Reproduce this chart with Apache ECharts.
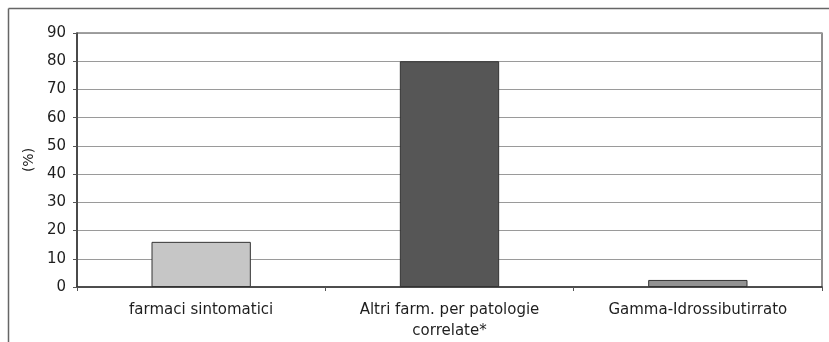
<!DOCTYPE html>
<html>
<head>
<meta charset="utf-8">
<script src="https://cdn.jsdelivr.net/npm/echarts@6/dist/echarts.min.js"></script>
<style>html,body{margin:0;padding:0;background:#fff}#c{width:829px;height:342px}</style>
</head>
<body>
<div id="c"></div>
<script>
const categories = ['farmaci sintomatici', 'Altri farm. per patologie\ncorrelate*', 'Gamma-Idrossibutirrato'];
const values = [16, 80, 2.5];
const barColors = ['#c6c6c6', '#565656', '#929292'];
const yTicks = { min: 0, max: 90, interval: 10 };

const chart = echarts.init(document.getElementById('c'), null, { renderer: 'canvas' });
chart.setOption({
  animation: false,
  backgroundColor: '#fff',
  graphic: [
    { type: 'line', shape: { x1: 8.5, y1: 8.5, x2: 829, y2: 8.5 }, style: { stroke: '#666', lineWidth: 1.5 } },
    { type: 'line', shape: { x1: 8.5, y1: 8.5, x2: 8.5, y2: 342 }, style: { stroke: '#666', lineWidth: 1.5 } }
  ],
  grid: { left: 77, top: 33, right: 7, bottom: 54, show: true, borderColor: '#444', borderWidth: 1.2, backgroundColor: 'transparent' },
  xAxis: {
    type: 'category',
    data: categories,
    axisLine: { lineStyle: { color: '#333', width: 1.5 } },
    axisTick: { show: true, length: 4, lineStyle: { color: '#555' } },
    axisLabel: { color: '#1e1e1e', fontFamily: 'DejaVu Sans', fontSize: 15, margin: 13, lineHeight: 21, interval: 0 }
  },
  yAxis: {
    type: 'value',
    min: yTicks.min, max: yTicks.max, interval: yTicks.interval,
    name: '(%)',
    nameLocation: 'middle',
    nameGap: 40,
    nameRotate: 90,
    nameTextStyle: { color: '#1e1e1e', fontFamily: 'DejaVu Sans', fontSize: 14 },
    axisLine: { show: true, lineStyle: { color: '#333', width: 1.5 } },
    axisTick: { show: true, length: 4, lineStyle: { color: '#555' } },
    axisLabel: { color: '#1e1e1e', fontFamily: 'DejaVu Sans', fontSize: 15, margin: 11 },
    splitLine: { lineStyle: { color: '#9a9a9a', width: 1 } }
  },
  series: [{
    type: 'bar',
    data: values.map((v, i) => ({ value: v, itemStyle: { color: barColors[i] } })),
    barWidth: '40%',
    itemStyle: { borderColor: '#333', borderWidth: 1 }
  }]
});
</script>
</body>
</html>
